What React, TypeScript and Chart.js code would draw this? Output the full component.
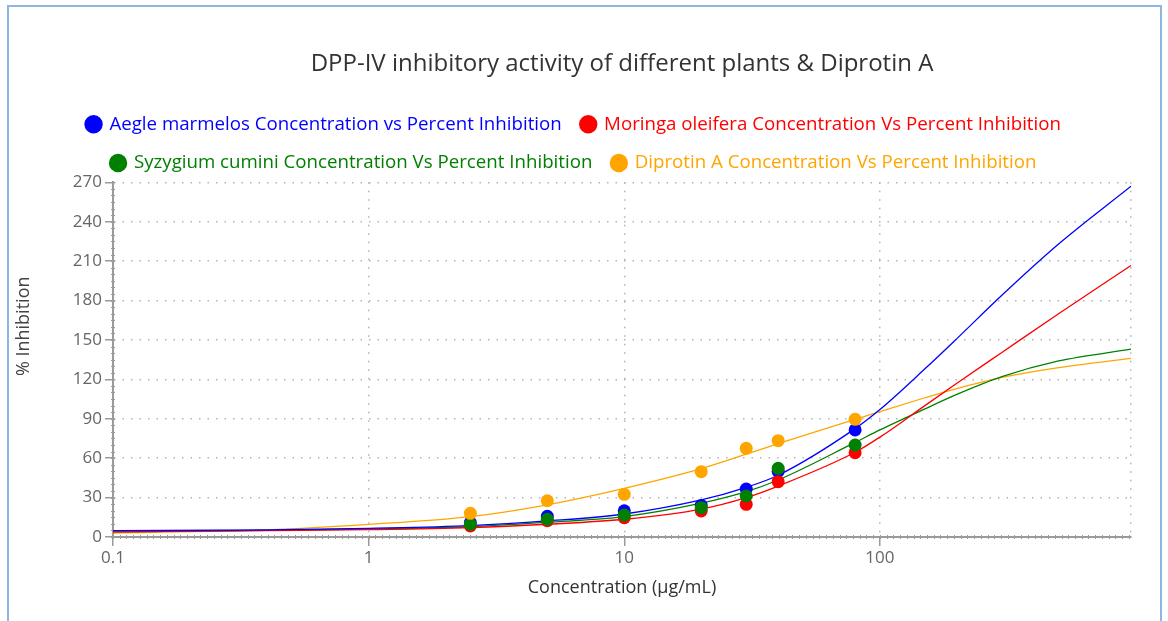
import React, { useEffect, useRef } from 'react';
import { Chart, registerables } from 'chart.js';

Chart.register(...registerables);

// Measured points
const concentrations = [2.5, 5, 10, 20, 30, 40, 80];
const aegleInhibition = [10.9, 15.8, 20, 24, 36.5, 50, 81.5];
const moringaInhibition = [8.4, 12.4, 14.7, 19.8, 24.9, 42.1, 64.2];
const syzygiumInhibition = [9.7, 13.5, 16.7, 22.3, 31.2, 52.3, 70];
const diprotinInhibition = [18, 27.6, 32.5, 49.7, 67.5, 73.3, 89.6];

// Fitted curves
const fitConcentrations = [0.1, 0.4, 1, 2.5, 5, 10, 20, 30, 40, 80, 100, 150, 200, 300, 500, 960];
const aegleFit = [4.8, 5.4, 6.6, 8.6, 12.2, 17.5, 28.2, 37.8, 47, 82.5, 97, 128, 151, 184, 223, 267];
const moringaFit = [3.9, 4.9, 5.6, 7.1, 9.7, 13.5, 21.3, 30, 38.8, 64.5, 76, 100, 117, 140.5, 170, 206.6];
const syzygiumFit = [3.9, 5.1, 6.1, 7.8, 11.2, 15.5, 25.7, 34.5, 43.4, 72, 81.5, 97.5, 108.5, 122, 134, 143];
const diprotinFit = [3.0, 5.5, 9.6, 15.5, 24.5, 37, 52, 63, 71, 89.5, 95.5, 106, 113, 121.5, 129, 136];

const seriesNames = [
  'Aegle marmelos Concentration vs Percent Inhibition',
  'Moringa oleifera Concentration Vs Percent Inhibition',
  'Syzygium cumini Concentration Vs Percent Inhibition',
  'Diprotin A Concentration Vs Percent Inhibition',
];
const seriesColors = ['#0000ff', '#ff0000', '#008000', '#ffa500'];

const xTickValues = [0.1, 1, 10, 100];
const xTickLabels = ['0.1', '1', '10', '100'];
const xMin = 0.1;
const xMax = 960;
const yMin = 0;
const yMax = 270;
const yStep = 30;
const yMinorStep = 5;
const xMinorPerDecade = 38;

const chartTitle = 'DPP-IV inhibitory activity of different plants & Diprotin A';
const xTitle = 'Concentration (μg/mL)';
const yTitle = '% Inhibition';

const FONT = "'Open Sans', 'Noto Sans', sans-serif";

const toPoints = (xs: number[], ys: number[]) => xs.map((x, i) => ({ x, y: ys[i] }));

const axisDecor = {
  id: 'axisDecor',
  beforeDatasetsDraw(chart: any) {
    const { ctx, chartArea, scales } = chart;
    const x = scales.x;
    const y = scales.y;
    ctx.save();
    ctx.strokeStyle = '#9a9a9a';
    ctx.lineWidth = 1;
    ctx.beginPath();
    for (let v = yMin; v <= yMax; v += yMinorStep) {
      const py = Math.round(y.getPixelForValue(v)) + 0.5;
      ctx.moveTo(chartArea.left - 2, py);
      ctx.lineTo(chartArea.left + 2, py);
    }
    const decades = Math.log10(xMax / xMin);
    for (let k = 0; k <= decades * xMinorPerDecade; k++) {
      const v = xMin * Math.pow(10, k / xMinorPerDecade);
      const px = Math.round(x.getPixelForValue(v)) + 0.5;
      ctx.moveTo(px, chartArea.bottom - 2);
      ctx.lineTo(px, chartArea.bottom + 2);
    }
    ctx.stroke();
    ctx.restore();
  },
  afterDraw(chart: any) {
    const { ctx, chartArea } = chart;
    ctx.save();
    ctx.translate(23.5, chartArea.top + 144);
    ctx.rotate(-Math.PI / 2);
    ctx.font = `18px ${FONT}`;
    ctx.fillStyle = '#444';
    ctx.textAlign = 'center';
    ctx.textBaseline = 'middle';
    ctx.fillText(yTitle, 0, 0);
    ctx.restore();
  },
};

export default function App() {
  const canvasRef = useRef<HTMLCanvasElement | null>(null);

  useEffect(() => {
    const canvas = canvasRef.current;
    if (!canvas) return;
    const scatterSets = [aegleInhibition, moringaInhibition, syzygiumInhibition, diprotinInhibition];
    const fitSets = [aegleFit, moringaFit, syzygiumFit, diprotinFit];

    const datasets: any[] = [];
    scatterSets.forEach((vals, i) => {
      datasets.push({
        type: 'scatter',
        label: seriesNames[i],
        data: toPoints(concentrations, vals),
        backgroundColor: seriesColors[i],
        borderColor: seriesColors[i],
        borderWidth: 0,
        pointRadius: 6.5,
        pointHoverRadius: 6.5,
        order: 4 - i,
      });
    });
    fitSets.forEach((vals, i) => {
      datasets.push({
        type: 'scatter',
        label: seriesNames[i] + ' fit',
        isFit: true,
        data: toPoints(fitConcentrations, vals),
        showLine: true,
        borderColor: seriesColors[i],
        backgroundColor: seriesColors[i],
        borderWidth: 1.3,
        pointRadius: 0,
        cubicInterpolationMode: 'monotone',
        order: 10 + i,
      });
    });

    const chart = new Chart(canvas, {
      type: 'scatter',
      data: { datasets },
      plugins: [axisDecor],
      options: {
        animation: false,
        responsive: false,
        maintainAspectRatio: false,
        devicePixelRatio: 1,
        layout: { padding: { left: 17, right: 37, top: 0, bottom: 22 } },
        plugins: {
          tooltip: { enabled: false },
          title: {
            display: true,
            text: chartTitle,
            fullSize: false,
            color: '#333',
            font: { family: FONT, size: 24, weight: 'normal', lineHeight: 1.2 },
            padding: { top: 49.6, bottom: 16.5 },
          },
          legend: {
            display: true,
            position: 'top',
            labels: {
              usePointStyle: true,
              boxWidth: 13,
              boxHeight: 13,
              padding: 20,
              font: { family: FONT, size: 18.7 },
              generateLabels: (c: any) =>
                c.data.datasets
                  .map((ds: any, i: number) => ({
                    text: ds.label,
                    fillStyle: ds.backgroundColor,
                    strokeStyle: ds.backgroundColor,
                    fontColor: ds.backgroundColor,
                    lineWidth: 0,
                    pointStyle: 'circle',
                    hidden: false,
                    datasetIndex: i,
                    isFit: ds.isFit,
                  }))
                  .filter((it: any) => !it.isFit),
            },
          },
        },
        scales: {
          x: {
            type: 'logarithmic',
            position: 'bottom',
            min: xMin,
            max: xMax,
            afterBuildTicks: (scale: any) => {
              scale.ticks = [...xTickValues, xMax].map((v) => ({ value: v }));
            },
            afterFit: (scale: any) => {
              scale.height = 62;
            },
            ticks: {
              color: '#666',
              font: { family: FONT, size: 17 },
              padding: 2,
              maxRotation: 0,
              autoSkip: false,
              callback: (value: any) => {
                const idx = xTickValues.indexOf(Number(value));
                return idx >= 0 ? xTickLabels[idx] : '';
              },
            },
            grid: {
              color: '#b4b4b4',
              lineWidth: 1.5,
              drawTicks: true,
              tickLength: 9,
              tickWidth: 1.5,
              tickColor: (ctx: any) => (ctx.tick && ctx.tick.value === xMax ? 'rgba(0,0,0,0)' : '#9a9a9a'),
            },
            border: { display: true, color: '#9a9a9a', width: 2, dash: [1.5, 7] },
            title: {
              display: true,
              text: xTitle,
              color: '#333',
              font: { family: FONT, size: 18 },
              padding: { top: 0, bottom: 0 },
            },
          },
          y: {
            type: 'linear',
            min: yMin,
            max: yMax,
            afterFit: (scale: any) => {
              scale.width = 96;
            },
            ticks: {
              stepSize: yStep,
              color: '#666',
              font: { family: FONT, size: 17 },
              padding: 3,
            },
            grid: {
              color: '#b4b4b4',
              lineWidth: 1.5,
              drawTicks: true,
              tickLength: 8,
              tickWidth: 1.5,
              tickColor: '#9a9a9a',
            },
            border: { display: true, color: '#9a9a9a', width: 2, dash: [1.5, 7] },
          },
        },
      } as any,
    });
    return () => chart.destroy();
  }, []);

  return (
    <div style={{ position: 'fixed', inset: 0, overflow: 'hidden', background: '#fff' }}>
      <div
        style={{
          position: 'absolute',
          left: 7,
          top: 5,
          width: 1155,
          height: 700,
          border: '2px solid #8fb5e3',
          boxSizing: 'border-box',
        }}
      />
      <canvas
        ref={canvasRef}
        width={1168}
        height={621}
        style={{ position: 'absolute', left: 0, top: 0, width: 1168, height: 621 }}
      />
    </div>
  );
}
